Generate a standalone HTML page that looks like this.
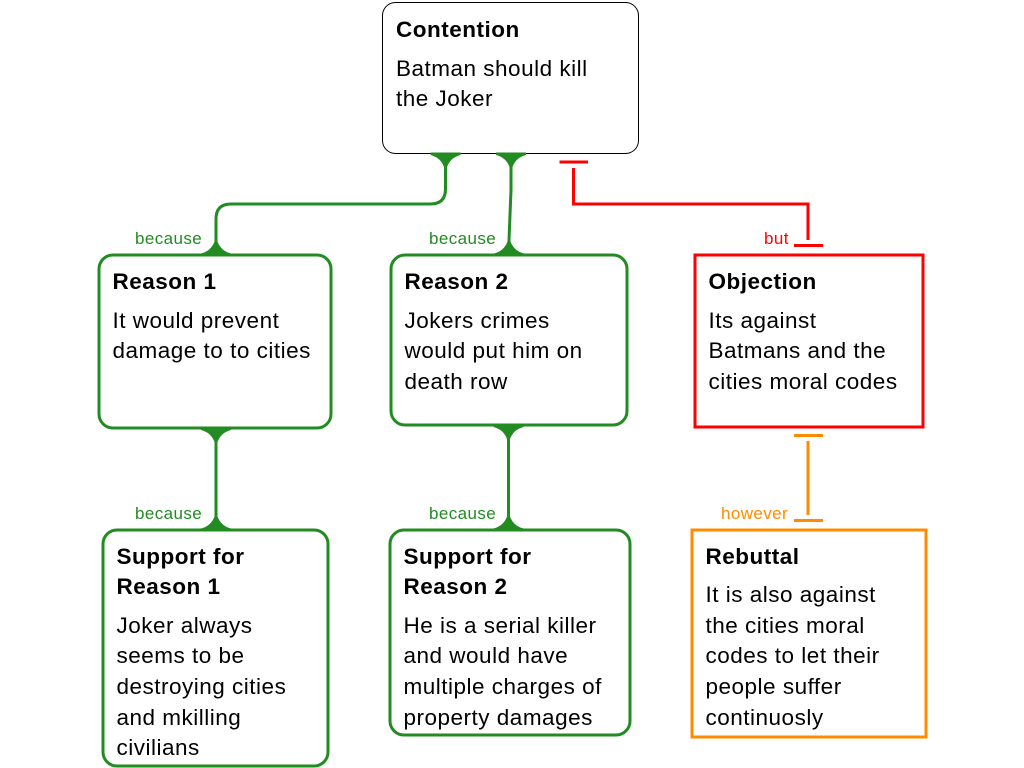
<!DOCTYPE html>
<html>
<head>
<meta charset="utf-8">
<style>
html,body{margin:0;padding:0;background:#fff;width:1024px;height:768px;overflow:hidden}
svg{display:block}
text{font-family:"Liberation Sans",sans-serif;font-size:22.5px;letter-spacing:.5px;fill:#000}
text.b{font-weight:bold}
text.l{font-size:17px;letter-spacing:.4px}
</style>
</head>
<body>
<svg width="1024" height="768" viewBox="0 0 1024 768" xmlns="http://www.w3.org/2000/svg">
<defs>
<path id="f" d="M-15 -1.500H15V1Q5 3.500 1.500 13H-1.500Q-5 3.500 -15 1Z" fill="#228b22"/>
</defs>
<!-- boxes -->
<rect x="382.5" y="2.5" width="256" height="151" rx="13" fill="#fff" stroke="#000" stroke-width="1"/>
<g fill="#fff" stroke="#228b22" stroke-width="3">
<rect x="99" y="255" width="232" height="173" rx="14"/>
<rect x="391" y="255" width="236" height="170" rx="14"/>
<rect x="103" y="530" width="225" height="236" rx="14"/>
<rect x="390" y="530" width="240" height="205" rx="14"/>
</g>
<rect x="695" y="255" width="228" height="172" fill="#fff" stroke="#ff0000" stroke-width="3"/>
<rect x="692" y="530" width="234" height="207" fill="#fff" stroke="#ff8c00" stroke-width="3"/>

<!-- green connectors -->
<g fill="none" stroke="#228b22" stroke-width="3">
<path d="M445.500 154V189Q445.500 204 430.500 204H231Q216 204 216 219V254"/>
<path d="M511 154V190L509 240V254"/>
<path d="M216 428V529"/>
<path d="M508.500 425V529"/>
</g>
<use href="#f" transform="translate(445.500 154)"/>
<use href="#f" transform="translate(511 154)"/>
<use href="#f" transform="translate(216 254.500) scale(1 -1)"/>
<use href="#f" transform="translate(509 254.500) scale(1 -1)"/>
<use href="#f" transform="translate(216 429)"/>
<use href="#f" transform="translate(216 529.500) scale(1 -1)"/>
<use href="#f" transform="translate(508.500 426)"/>
<use href="#f" transform="translate(508.500 529.500) scale(1 -1)"/>

<!-- red connector -->
<g fill="none" stroke="#ff0000" stroke-width="3">
<path d="M559.500 162H588"/>
<path d="M573.500 168V204H808V240"/>
<path d="M794 245.500H823"/>
</g>

<!-- orange connector -->
<g fill="none" stroke="#ff8c00" stroke-width="3">
<path d="M794 435.500H823"/>
<path d="M808 441V515"/>
<path d="M794 520.500H823"/>
</g>

<!-- connector labels -->
<text class="l" x="135" y="244" style="fill:#228b22">because</text>
<text class="l" x="429" y="244" style="fill:#228b22">because</text>
<text class="l" x="135" y="519" style="fill:#228b22">because</text>
<text class="l" x="429" y="519" style="fill:#228b22">because</text>
<text class="l" x="764" y="244" style="fill:#ff0000">but</text>
<text class="l" x="721" y="519" style="fill:#ff8c00">however</text>

<!-- Contention -->
<text class="b" x="396" y="37">Contention</text>
<text x="396" y="76">Batman should kill</text>
<text x="396" y="106">the Joker</text>

<!-- Reason 1 -->
<text class="b" x="112.500" y="289">Reason 1</text>
<text x="112.500" y="328">It would prevent</text>
<text x="112.500" y="358">damage to to cities</text>

<!-- Reason 2 -->
<text class="b" x="404.500" y="289">Reason 2</text>
<text x="404.500" y="328">Jokers crimes</text>
<text x="404.500" y="358">would put him on</text>
<text x="404.500" y="389">death row</text>

<!-- Objection -->
<text class="b" x="708.500" y="289">Objection</text>
<text x="708.500" y="328">Its against</text>
<text x="708.500" y="358">Batmans and the</text>
<text x="708.500" y="389">cities moral codes</text>

<!-- Support 1 -->
<text class="b" x="116.500" y="564">Support for</text>
<text class="b" x="116.500" y="594">Reason 1</text>
<text x="116.500" y="633">Joker always</text>
<text x="116.500" y="663">seems to be</text>
<text x="116.500" y="694">destroying cities</text>
<text x="116.500" y="725">and mkilling</text>
<text x="116.500" y="755">civilians</text>

<!-- Support 2 -->
<text class="b" x="403.500" y="564">Support for</text>
<text class="b" x="403.500" y="594">Reason 2</text>
<text x="403.500" y="633">He is a serial killer</text>
<text x="403.500" y="663">and would have</text>
<text x="403.500" y="694">multiple charges of</text>
<text x="403.500" y="725">property damages</text>

<!-- Rebuttal -->
<text class="b" x="705.500" y="564">Rebuttal</text>
<text x="705.500" y="602">It is also against</text>
<text x="705.500" y="633">the cities moral</text>
<text x="705.500" y="663">codes to let their</text>
<text x="705.500" y="694">people suffer</text>
<text x="705.500" y="725">continuosly</text>
</svg>
</body>
</html>
